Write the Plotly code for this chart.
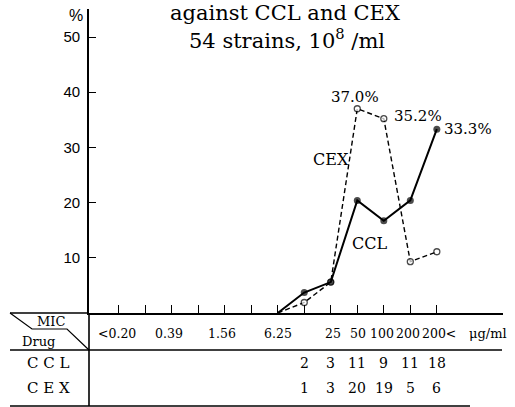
import plotly.graph_objects as go

# MIC categories (µg/ml) along the x axis
categories = ["<0.20", "0.20", "0.39", "0.78", "1.56", "3.13", "6.25",
              "12.5", "25", "50", "100", "200", "200<"]
labelled = ["<0.20", "0.39", "1.56", "6.25", "25", "50", "100", "200", "200<"]

# distribution curves (% of strains), starting from 0 at 6.25
curve_x = ["6.25", "12.5", "25", "50", "100", "200", "200<"]
ccl_pct = [0, 3.7, 5.6, 20.4, 16.7, 20.4, 33.3]
cex_pct = [0, 1.9, 5.6, 37.0, 35.2, 9.3, 11.1]

# strain counts shown in the table rows
count_x = ["12.5", "25", "50", "100", "200", "200<"]
ccl_counts = ["2", "3", "11", "9", "11", "18"]
cex_counts = ["1", "3", "20", "19", "5", "6"]

y_ticks = [10, 20, 30, 40, 50]

W, H = 515, 407
SERIF = "DejaVu Serif"
SANS = "Liberation Sans"


def px(x):
    return x / W


def py(y):
    return 1 - y / H


def pos(cat):
    # position of a category on the x axis (index in category order)
    return categories.index(cat)


fig = go.Figure()

fig.add_trace(go.Scatter(
    x=curve_x, y=cex_pct, mode="lines+markers",
    line=dict(color="black", width=1.4, dash="5px,3px"),
    marker=dict(symbol="circle", color="white", size=[0] + [6] * 6,
                line=dict(color="black", width=1.3)),
    cliponaxis=False, showlegend=False))

fig.add_trace(go.Scatter(
    x=curve_x, y=ccl_pct, mode="lines+markers",
    line=dict(color="black", width=2),
    marker=dict(symbol="circle", color="black", size=[0] + [7] * 6,
                line=dict(color="black", width=0)),
    cliponaxis=False, showlegend=False))

ann = []


def text(x, y, s, size, font=SERIF, xref="paper", yref="paper",
         xanchor="center", yanchor="middle", xshift=0, yshift=0):
    ann.append(dict(x=x, y=y, text=s, xref=xref, yref=yref, showarrow=False,
                    xanchor=xanchor, yanchor=yanchor,
                    xshift=xshift, yshift=yshift,
                    font=dict(family=font, size=size, color="black")))


# heading
text(px(285), py(13), "against CCL and CEX", 21)
text(px(287), py(39), "54 strains, 10<sup>8</sup> /ml", 21)
text(px(76), py(15), "%", 16, font=SANS)

# value call-outs beside their points, and series names
text(pos("50"), cex_pct[3], "37.0%", 15, xref="x", yref="y",
     xshift=-2, yshift=12)
text(pos("100"), cex_pct[4], "35.2%", 15, xref="x", yref="y",
     xanchor="left", xshift=8, yshift=3)
text(pos("200<"), ccl_pct[6], "33.3%", 15, xref="x", yref="y",
     xanchor="left", xshift=5)
text(px(331), py(160), "CEX", 16)
text(px(369), py(243), "CCL", 16)

# table: MIC header row
nudge = {"<0.20": -2, "0.39": -3, "1.56": -3, "25": 2, "50": 1,
         "100": -2, "200": -2, "200<": 2}
for c in labelled:
    text(pos(c), py(333), c, 12.5, xref="x", xshift=nudge.get(c, 0))
text(px(488), py(333), "\u03bcg/ml", 13)
text(px(67), py(321), "MIC", 13, xanchor="right")
text(px(20), py(341), "Drug", 13, xanchor="left")

# table: count rows
text(px(48), py(363), "C C L", 15)
text(px(48), py(388), "C E X", 15)
for c, n in zip(count_x, ccl_counts):
    text(pos(c), py(363), n, 14, xref="x")
for c, n in zip(count_x, cex_counts):
    text(pos(c), py(388), n, 14, xref="x")

line_style = dict(color="black", width=1.6)
shapes = [
    # continuation of the y axis through the table
    dict(type="line", xref="paper", yref="paper", x0=px(89), x1=px(89),
         y0=py(313), y1=py(406), line=line_style),
    # header top edge left of the axis
    dict(type="line", xref="paper", yref="paper", x0=px(10), x1=px(89),
         y0=py(313), y1=py(313), line=line_style),
    # diagonal split of the corner cell
    dict(type="path", xref="paper", yref="paper",
         path=f"M {px(10)},{py(313)} L {px(32)},{py(329)} "
              f"L {px(67)},{py(329)} L {px(89)},{py(350)}",
         line=dict(color="black", width=1.2)),
    # rule under the header row
    dict(type="line", xref="paper", yref="paper", x0=px(10), x1=px(502),
         y0=py(350), y1=py(350), line=line_style),
    # bottom rule
    dict(type="line", xref="paper", yref="paper", x0=px(10), x1=px(470),
         y0=py(406), y1=py(406), line=line_style),
]

# category spacing: first tick at 118.6 px, 26.52 px per step
first_px, step = 118.6, 26.52
x_lo = -(first_px - 89) / step
x_hi = len(categories) - 1 + (503 - (first_px + step * (len(categories) - 1))) / step
y_top = (313 - 9) / ((313 - 37) / 50)

fig.update_layout(
    width=W, height=H, autosize=False,
    margin=dict(l=0, r=0, t=0, b=0),
    paper_bgcolor="white", plot_bgcolor="white",
    annotations=ann, shapes=shapes,
    xaxis=dict(type="category", categoryorder="array", categoryarray=categories,
               domain=[px(89), px(503)], range=[x_lo, x_hi],
               showline=True, linecolor="black", linewidth=1.8,
               ticks="inside", ticklen=8, tickwidth=1.3, tickcolor="black",
               tickvals=categories, showticklabels=False,
               showgrid=False, zeroline=False, fixedrange=True),
    yaxis=dict(domain=[py(313), py(9)], range=[0, y_top],
               showline=True, linecolor="black", linewidth=1.8,
               ticks="inside", ticklen=7, tickwidth=1.3, tickcolor="black",
               tickvals=y_ticks, ticklabelstandoff=4,
               tickfont=dict(family=SANS, size=15, color="black"),
               showgrid=False, zeroline=False, fixedrange=True),
)

fig.write_html("out.html")
